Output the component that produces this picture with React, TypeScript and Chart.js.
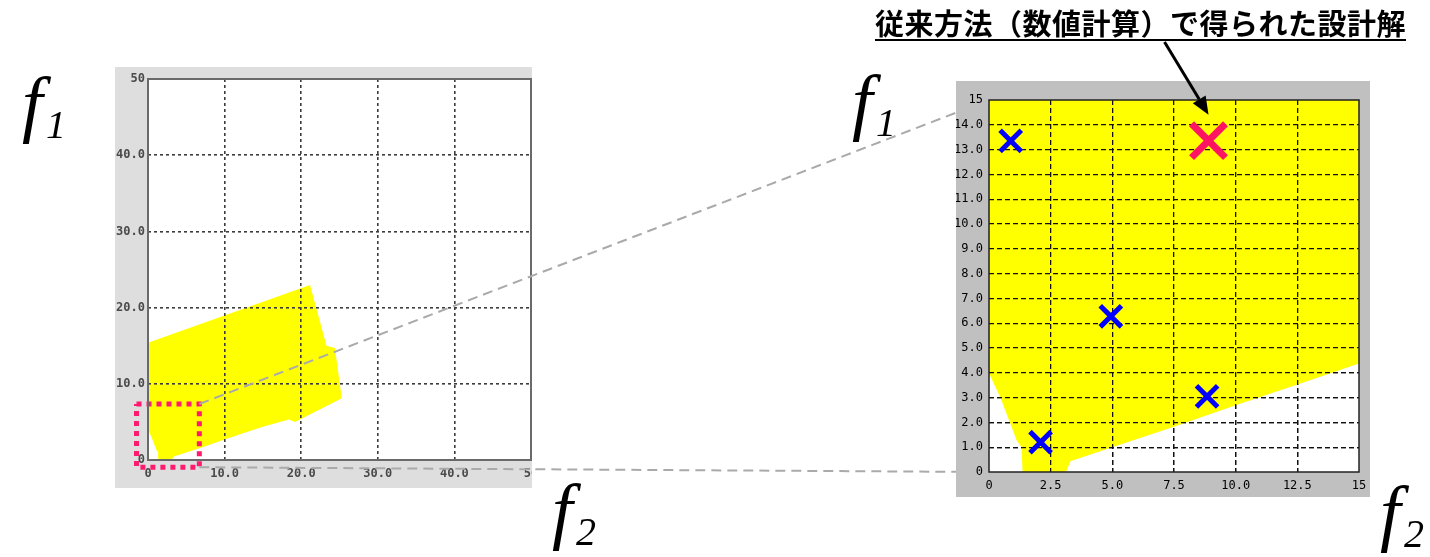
import { useEffect, useRef } from 'react';
import { Chart, registerables } from 'chart.js';

Chart.register(...registerables);

// Feasible region in objective space (f2, f1), traced clockwise from the upper-left corner
const regionF2 = [0, 21.15, 23.3, 24.4, 25.3, 19.2, 18.4, 15, 12.6, 10, 7.5, 5, 3.3, 3.12, 1.36, 1.32, 1.12, 0.45, 0];
const regionF1 = [15.4, 22.95, 15.0, 14.7, 8.1, 5.0, 5.3, 4.37, 3.56, 2.69, 1.82, 1.0, 0.43, 0, 0, 1.0, 1.28, 3.03, 3.97];

// Design solutions (blue crosses)
const solutionF2 = [0.88, 2.09, 4.94, 8.84];
const solutionF1 = [13.35, 1.2, 6.28, 3.05];

// Design solution from the conventional numerical method (red cross)
const conventionalF2 = [8.9];
const conventionalF1 = [13.36];

// Overview axes
const overviewTicks = [0, 10, 20, 30, 40, 50];
const overviewLabels = ['0', '10.0', '20.0', '30.0', '40.0', '50'];

// Detail axes
const detailF2Ticks = [0, 2.5, 5, 7.5, 10, 12.5, 15];
const detailF2Labels = ['0', '2.5', '5.0', '7.5', '10.0', '12.5', '15'];
const detailF1Ticks = [0, 1, 2, 3, 4, 5, 6, 7, 8, 9, 10, 11, 12, 13, 14, 15];
const detailF1Labels = ['0', '1.0', '2.0', '3.0', '4.0', '5.0', '6.0', '7.0', '8.0', '9.0', '10.0', '11.0', '12.0', '13.0', '14.0', '15'];

// Window on the overview that is magnified in the detail view
const windowF2 = [-1.5, 6.7];
const windowF1 = [-0.95, 7.35];

const TITLE = '従来方法（数値計算）で得られた設計解';

// Canvas placement on the page
const LEFT = { x: 115, y: 67, w: 417, h: 421 };
const RIGHT = { x: 956, y: 81, w: 414, h: 416 };
const PAGE = { w: 1430, h: 557 };

const toPoints = (xs: number[], ys: number[]) => xs.map((x, i) => ({ x, y: ys[i] }));

type AxisOpts = {
  ticks: number[];
  labels: string[];
  horizontal: boolean;
  size: number;
  padding: number;
  font: any;
  color: string;
  gridColor: string;
  gridWidth: number;
  dash: number[];
  gridZ: number;
};

function makeAxis(o: AxisOpts) {
  const first = o.ticks[0];
  const last = o.ticks[o.ticks.length - 1];
  return {
    type: 'linear',
    min: first,
    max: last,
    afterBuildTicks: (s: any) => {
      s.ticks = o.ticks.map((v) => ({ value: v }));
    },
    afterFit: (s: any) => {
      if (o.horizontal) s.height = o.size;
      else s.width = o.size;
      s.paddingLeft = 0;
      s.paddingRight = 0;
      s.paddingTop = 0;
      s.paddingBottom = 0;
    },
    ticks: {
      autoSkip: false,
      maxRotation: 0,
      minRotation: 0,
      padding: o.padding,
      font: o.font,
      color: o.color,
      callback: (_v: any, i: number) => o.labels[i],
    },
    grid: {
      drawTicks: false,
      lineWidth: o.gridWidth,
      z: o.gridZ,
      color: (c: any) =>
        c.tick && (c.tick.value === first || c.tick.value === last) ? 'rgba(0,0,0,0)' : o.gridColor,
    },
    border: { display: false, dash: o.dash },
  };
}

function panelPlugin(panel: string, frame: string, frameWidth: number) {
  return {
    id: 'panel',
    beforeDraw(chart: any) {
      const { ctx, width, height, chartArea: a } = chart;
      ctx.save();
      ctx.fillStyle = panel;
      ctx.fillRect(0, 0, width, height);
      ctx.fillStyle = '#ffffff';
      ctx.fillRect(a.left, a.top, a.right - a.left, a.bottom - a.top);
      ctx.restore();
    },
    afterDraw(chart: any) {
      const { ctx, chartArea: a } = chart;
      ctx.save();
      ctx.strokeStyle = frame;
      ctx.lineWidth = frameWidth;
      ctx.strokeRect(a.left, a.top, a.right - a.left, a.bottom - a.top);
      ctx.restore();
    },
  };
}

// Grid lines are painted again right after the region fill so they show through the yellow
const gridOverRegion = {
  id: 'gridOverRegion',
  afterDatasetDraw(chart: any, args: any) {
    if (args.index !== 0) return;
    chart.scales.x.drawGrid(chart.chartArea);
    chart.scales.y.drawGrid(chart.chartArea);
  },
};

function regionDataset() {
  return {
    data: toPoints(regionF2, regionF1),
    fill: 'shape',
    backgroundColor: '#ffff00',
    borderColor: 'rgba(0,0,0,0)',
    borderWidth: 0,
    pointRadius: 0,
    tension: 0,
    order: 5,
  };
}

function overviewConfig(): any {
  const tickFont = { family: 'DejaVu Sans Mono', size: 12, weight: 'bold' };
  const common = {
    horizontal: false,
    font: tickFont,
    color: '#4a4a4a',
    gridColor: '#3c3c3c',
    gridWidth: 1.6,
    dash: [3, 3],
    gridZ: 1,
  };
  const [x0, x1] = windowF2;
  const [y0, y1] = windowF1;
  return {
    type: 'line',
    data: {
      datasets: [
        regionDataset(),
        {
          data: toPoints([x0, x1, x1, x0, x0], [y1, y1, y0, y0, y1]),
          borderColor: '#ff1a6e',
          borderWidth: 5,
          borderDash: [5, 5],
          borderJoinStyle: 'miter',
          pointRadius: 0,
          fill: false,
          clip: false,
          order: 0,
        },
      ],
    },
    options: {
      animation: false,
      responsive: false,
      events: [],
      layout: { autoPadding: false, padding: { top: 12, right: 1, left: 0, bottom: 0 } },
      plugins: { legend: { display: false }, tooltip: { enabled: false } },
      scales: {
        x: makeAxis({ ...common, ticks: overviewTicks, labels: overviewLabels, horizontal: true, size: 28, padding: 7 }),
        y: makeAxis({ ...common, ticks: overviewTicks, labels: overviewLabels, size: 33, padding: 3 }),
      },
    },
    plugins: [panelPlugin('#dedede', '#6a6a6a', 2)],
  };
}

function detailConfig(): any {
  const tickFont = { family: 'DejaVu Sans Mono', size: 12 };
  const common = {
    horizontal: false,
    font: tickFont,
    color: '#000000',
    gridColor: '#111111',
    gridWidth: 1.3,
    dash: [5, 3],
    gridZ: -1,
  };
  return {
    type: 'line',
    data: {
      datasets: [
        regionDataset(),
        {
          data: toPoints(solutionF2, solutionF1),
          showLine: false,
          pointStyle: 'crossRot',
          pointRadius: 15,
          pointBorderWidth: 5,
          pointBorderColor: '#0000ff',
          pointBackgroundColor: '#0000ff',
          order: 1,
        },
        {
          data: toPoints(conventionalF2, conventionalF1),
          showLine: false,
          pointStyle: 'crossRot',
          pointRadius: 24,
          pointBorderWidth: 7,
          pointBorderColor: '#ff1464',
          pointBackgroundColor: '#ff1464',
          order: 0,
        },
      ],
    },
    options: {
      animation: false,
      responsive: false,
      events: [],
      layout: { autoPadding: false, padding: { top: 19, right: 11, left: 0, bottom: 0 } },
      plugins: { legend: { display: false }, tooltip: { enabled: false } },
      scales: {
        x: makeAxis({ ...common, ticks: detailF2Ticks, labels: detailF2Labels, horizontal: true, size: 25, padding: 7 }),
        y: makeAxis({ ...common, ticks: detailF1Ticks, labels: detailF1Labels, size: 33, padding: 6 }),
      },
    },
    plugins: [panelPlugin('#c0c0c0', '#222222', 1.5), gridOverRegion],
  };
}

function ObjectiveLabel({ left, top, sub }: { left: number; top: number; sub: string }) {
  const font = "'Liberation Serif', 'Times New Roman', serif";
  return (
    <>
      <span
        style={{
          position: 'absolute',
          left,
          top,
          fontFamily: font,
          fontStyle: 'italic',
          fontSize: 74,
          lineHeight: '74px',
          color: '#000',
          whiteSpace: 'nowrap',
        }}
      >
        f
      </span>
      <span
        style={{
          position: 'absolute',
          left: left + 24,
          top: top + 39,
          fontFamily: font,
          fontStyle: 'italic',
          fontSize: 40,
          lineHeight: '40px',
          color: '#000',
          whiteSpace: 'nowrap',
        }}
      >
        {sub}
      </span>
    </>
  );
}

export default function App() {
  const leftRef = useRef<HTMLCanvasElement>(null);
  const rightRef = useRef<HTMLCanvasElement>(null);
  const linkRef = useRef<HTMLCanvasElement>(null);
  const arrowRef = useRef<HTMLCanvasElement>(null);

  useEffect(() => {
    const left = new Chart(leftRef.current!, overviewConfig());
    const right = new Chart(rightRef.current!, detailConfig());

    const lx = (v: number) => LEFT.x + left.scales.x.getPixelForValue(v);
    const ly = (v: number) => LEFT.y + left.scales.y.getPixelForValue(v);
    const rx = (v: number) => RIGHT.x + right.scales.x.getPixelForValue(v);
    const ry = (v: number) => RIGHT.y + right.scales.y.getPixelForValue(v);

    // Dashed leader lines from the magnified window to the detail view
    const lctx = linkRef.current!.getContext('2d')!;
    lctx.clearRect(0, 0, PAGE.w, PAGE.h);
    lctx.save();
    lctx.strokeStyle = '#aaaaaa';
    lctx.lineWidth = 2;
    lctx.setLineDash([10, 6]);
    const dMin = detailF2Ticks[0];
    const dTop = detailF1Ticks[detailF1Ticks.length - 1];
    lctx.beginPath();
    lctx.moveTo(lx(windowF2[1]), ly(windowF1[1]));
    lctx.lineTo(rx(dMin), ry(dTop));
    lctx.moveTo(lx(windowF2[1]), ly(windowF1[0]));
    lctx.lineTo(rx(dMin), ry(detailF1Ticks[0]));
    lctx.stroke();
    lctx.restore();

    // Arrow from the caption down to the conventional solution
    const actx = arrowRef.current!.getContext('2d')!;
    actx.clearRect(0, 0, PAGE.w, PAGE.h);
    const tipX = rx(conventionalF2[0]);
    const tipY = ry(conventionalF1[0]) - 26;
    const tailX = tipX - 44;
    const tailY = 42;
    const ang = Math.atan2(tipY - tailY, tipX - tailX);
    const headLen = 18;
    const headHalf = 7.5;
    const bx = tipX - Math.cos(ang) * headLen;
    const by = tipY - Math.sin(ang) * headLen;
    actx.save();
    actx.strokeStyle = '#000';
    actx.fillStyle = '#000';
    actx.lineWidth = 3;
    actx.beginPath();
    actx.moveTo(tailX, tailY);
    actx.lineTo(bx, by);
    actx.stroke();
    actx.beginPath();
    actx.moveTo(tipX, tipY);
    actx.lineTo(bx + Math.sin(ang) * headHalf, by - Math.cos(ang) * headHalf);
    actx.lineTo(bx - Math.sin(ang) * headHalf, by + Math.cos(ang) * headHalf);
    actx.closePath();
    actx.fill();
    actx.restore();

    return () => {
      left.destroy();
      right.destroy();
    };
  }, []);

  const abs = { position: 'absolute' as const, left: 0, top: 0 };

  return (
    <div
      style={{
        position: 'absolute',
        left: 0,
        top: 0,
        width: PAGE.w,
        height: PAGE.h,
        background: '#ffffff',
        overflow: 'hidden',
      }}
    >
      <canvas
        ref={leftRef}
        width={LEFT.w}
        height={LEFT.h}
        style={{ position: 'absolute', left: LEFT.x, top: LEFT.y, width: LEFT.w, height: LEFT.h }}
      />
      <canvas ref={linkRef} width={PAGE.w} height={PAGE.h} style={{ ...abs, width: PAGE.w, height: PAGE.h, pointerEvents: 'none' }} />
      <canvas
        ref={rightRef}
        width={RIGHT.w}
        height={RIGHT.h}
        style={{ position: 'absolute', left: RIGHT.x, top: RIGHT.y, width: RIGHT.w, height: RIGHT.h }}
      />
      <canvas ref={arrowRef} width={PAGE.w} height={PAGE.h} style={{ ...abs, width: PAGE.w, height: PAGE.h, pointerEvents: 'none' }} />

      <div
        style={{
          position: 'absolute',
          left: 875,
          top: 8,
          fontFamily: "'Noto Sans CJK JP', sans-serif",
          fontWeight: 700,
          fontSize: 29,
          lineHeight: '29px',
          letterSpacing: '0.5px',
          color: '#000',
          whiteSpace: 'nowrap',
          textDecoration: 'underline',
          textDecorationThickness: '2px',
          textUnderlineOffset: '4px',
        }}
      >
        {TITLE}
      </div>

      <ObjectiveLabel left={22} top={66} sub="1" />
      <ObjectiveLabel left={552} top={473} sub="2" />
      <ObjectiveLabel left={852} top={64} sub="1" />
      <ObjectiveLabel left={1380} top={475} sub="2" />
    </div>
  );
}
